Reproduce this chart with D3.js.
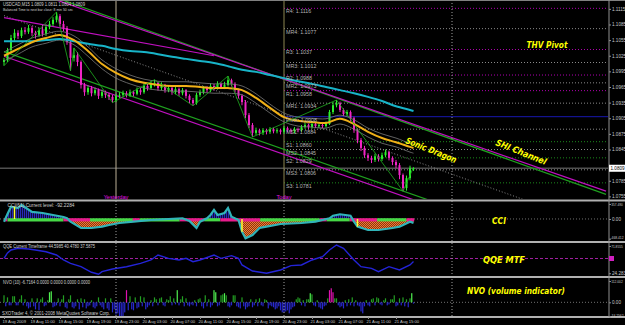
<!DOCTYPE html>
<html>
<head>
<meta charset="utf-8">
<script src="https://cdn.jsdelivr.net/npm/d3@7"></script>
<style>
  body { margin: 0; background: #000; }
  svg { display: block; }
</style>
</head>
<body>
<svg id="chart" width="625" height="325"></svg>
<script>
// USDCAD M15, 19-21 Aug 2009, one candle per half hour (hour = index * 0.5)
const opens = [1.1013,1.1017,1.1036,1.1059,1.1069,1.1063,1.1074,1.1071,1.1078,1.1069,
  1.1065,1.1074,1.1067,1.1080,1.1086,1.1094,1.1101,1.1086,1.1078,1.1051,
  1.1021,1.1026,1.1013,1.0969,1.0955,1.0963,1.0953,1.0959,1.0948,1.0955,
  1.0950,1.0946,1.0940,1.0948,1.0950,1.0953,1.0950,1.0955,1.0952,1.0959,
  1.0955,1.0967,1.0963,1.0971,1.0973,1.0963,1.0969,1.0959,1.0963,1.0955,
  1.0961,1.0953,1.0959,1.0948,1.0940,1.0934,1.0950,1.0955,1.0963,1.0959,
  1.0967,1.0963,1.0971,1.0965,1.0969,1.0978,1.0971,1.0959,1.0948,1.0936,
  1.0911,1.0892,1.0877,1.0882,1.0877,1.0882,1.0879,1.0884,1.0880,1.0882,
  1.0879,1.0886,1.0882,1.0880,1.0884,1.0882,1.0888,1.0892,1.0888,1.0894,
  1.0890,1.0892,1.0890,1.0894,1.0917,1.0930,1.0934,1.0921,1.0913,1.0917,
  1.0905,1.0882,1.0863,1.0848,1.0834,1.0829,1.0825,1.0832,1.0827,1.0834,
  1.0840,1.0829,1.0821,1.0815,1.0796,1.0771,1.0790,1.0809];
const highs = [1.1021,1.1040,1.1065,1.1076,1.1074,1.1079,1.1080,1.1084,1.1082,1.1073,
  1.1079,1.1084,1.1085,1.1092,1.1099,1.1109,1.1105,1.1092,1.1082,1.1055,
  1.1040,1.1032,1.1016,1.0973,1.0968,1.0967,1.0964,1.0962,1.0960,1.0958,
  1.0954,1.0950,1.0952,1.0955,1.0958,1.0957,1.0960,1.0958,1.0964,1.0963,
  1.0972,1.0971,1.0976,1.0979,1.0975,1.0974,1.0971,1.0968,1.0966,1.0966,
  1.0964,1.0963,1.0961,1.0951,1.0944,1.0954,1.0960,1.0967,1.0967,1.0972,
  1.0971,1.0976,1.0974,1.0975,1.0986,1.0981,1.0974,1.0962,1.0951,1.0940,
  1.0915,1.0896,1.0887,1.0885,1.0886,1.0885,1.0888,1.0887,1.0886,1.0885,
  1.0890,1.0889,1.0885,1.0888,1.0887,1.0892,1.0897,1.0895,1.0898,1.0897,
  1.0896,1.0895,1.0899,1.0921,1.0936,1.0940,1.0937,1.0924,1.0921,1.0920,
  1.0908,1.0886,1.0867,1.0852,1.0838,1.0833,1.0837,1.0836,1.0839,1.0845,
  1.0843,1.0832,1.0825,1.0819,1.0799,1.0795,1.0814,1.0811];
const lows = [1.1006,1.1013,1.1032,1.1054,1.1057,1.1059,1.1066,1.1067,1.1063,1.1058,
  1.1061,1.1062,1.1063,1.1076,1.1082,1.1089,1.1081,1.1072,1.1046,1.0996,
  1.1014,1.1005,1.0962,1.0948,1.0950,1.0947,1.0949,1.0942,1.0944,1.0944,
  1.0940,1.0935,1.0936,1.0944,1.0946,1.0945,1.0946,1.0947,1.0949,1.0950,
  1.0952,1.0958,1.0960,1.0966,1.0958,1.0959,1.0954,1.0955,1.0950,1.0951,
  1.0948,1.0949,1.0943,1.0934,1.0929,1.0931,1.0946,1.0951,1.0954,1.0955,
  1.0958,1.0960,1.0961,1.0961,1.0966,1.0966,1.0954,1.0943,1.0930,1.0905,
  1.0886,1.0869,1.0873,1.0872,1.0873,1.0874,1.0875,1.0876,1.0876,1.0874,
  1.0875,1.0878,1.0875,1.0876,1.0878,1.0879,1.0885,1.0884,1.0885,1.0886,
  1.0886,1.0886,1.0887,1.0892,1.0913,1.0926,1.0917,1.0909,1.0909,1.0900,
  1.0877,1.0857,1.0842,1.0829,1.0823,1.0819,1.0821,1.0822,1.0823,1.0830,
  1.0824,1.0815,1.0809,1.0788,1.0765,1.0766,1.0786,1.0804];
const closes = [1.1017,1.1036,1.1059,1.1069,1.1063,1.1074,1.1071,1.1078,1.1069,1.1065,
  1.1074,1.1067,1.1080,1.1086,1.1094,1.1101,1.1086,1.1078,1.1051,1.1021,
  1.1026,1.1013,1.0969,1.0955,1.0963,1.0953,1.0959,1.0948,1.0955,1.0950,
  1.0946,1.0940,1.0948,1.0950,1.0953,1.0950,1.0955,1.0952,1.0959,1.0955,
  1.0967,1.0963,1.0971,1.0973,1.0963,1.0969,1.0959,1.0963,1.0955,1.0961,
  1.0953,1.0959,1.0948,1.0940,1.0934,1.0950,1.0955,1.0963,1.0959,1.0967,
  1.0963,1.0971,1.0965,1.0969,1.0978,1.0971,1.0959,1.0948,1.0936,1.0911,
  1.0892,1.0877,1.0882,1.0877,1.0882,1.0879,1.0884,1.0880,1.0882,1.0879,
  1.0886,1.0882,1.0880,1.0884,1.0882,1.0888,1.0892,1.0888,1.0894,1.0890,
  1.0892,1.0890,1.0894,1.0917,1.0930,1.0934,1.0921,1.0913,1.0917,1.0905,
  1.0882,1.0863,1.0848,1.0834,1.0829,1.0825,1.0832,1.0827,1.0834,1.0840,
  1.0829,1.0821,1.0815,1.0796,1.0771,1.0790,1.0809,1.0809];

// moving averages, sampled every two hours
const maHours = [0,2,4,6,8,10,12,14,16,18,20,22,24,26,28,30,32,34,36,38,40,42,44,46,48,50,52,54,56,58,58.5];
const orangeMA = [1.1025,1.1038,1.1051,1.1059,1.1065,1.1055,1.1034,1.1009,1.0992,1.0980,1.0973,1.0969,1.0967,1.0967,1.0965,1.0963,
  1.0963,1.0959,1.0944,1.0925,1.0907,1.0900,1.0898,1.0896,1.0904,1.0894,1.0879,1.0867,1.0859,1.0850,1.0848];
const cyanMA = [1.1053,1.1053,1.1053,1.1055,1.1057,1.1053,1.1048,1.1044,1.1038,1.1034,1.1032,1.1028,1.1023,1.1019,1.1015,1.1011,
  1.1005,1.0998,1.0994,1.0988,1.0982,1.0976,1.0971,1.0965,1.0959,1.0953,1.0946,1.0938,1.0928,1.0921,1.0919];
const dragonHigh = [1.1032,1.1046,1.1059,1.1067,1.1072,1.1063,1.1042,1.1017,1.1000,1.0988,1.0980,1.0976,1.0975,1.0975,1.0973,1.0971,
  1.0971,1.0967,1.0952,1.0932,1.0915,1.0907,1.0905,1.0904,1.0911,1.0902,1.0886,1.0875,1.0867,1.0857,1.0856];
const dragonLow = [1.1015,1.1028,1.1042,1.1049,1.1055,1.1046,1.1024,1.1000,1.0982,1.0971,1.0963,1.0959,1.0957,1.0957,1.0955,1.0953,
  1.0953,1.0950,1.0934,1.0915,1.0898,1.0890,1.0888,1.0886,1.0894,1.0884,1.0869,1.0857,1.0850,1.0840,1.0838];

// zigzag swings
const zzHours = [0,7.5,9.5,10,15.5,21.5,27,32,35.5,47.5,57,58.5];
const zzPrices = [1.1006,1.1109,1.0996,1.1040,1.0935,1.0979,1.0929,1.0986,1.0869,1.0940,1.0765,1.0811];

// SHI channel lines: price at hour 0 and hour 86
const chanHours = [0, 86];
const chanUpperGreen = [1.1172, 1.0759];
const chanUpperMagenta = [1.1167, 1.0765];
const chanLowerGreen = [1.1033, 1.0629];
const chanLowerMagenta = [1.1024, 1.0619];
const chanMiddle = [1.1102, 1.0693];
// older magenta trend line in the top left corner
const trendHours = [0, 30];
const trendPrices = [1.1098, 1.1025];

// THV pivots of today
const pivotNames = ['R4','MR4','R3','MR3','R2','MR2','R1','MR1','Pivot','MS1','S1','MS2','S2','MS3','S3'];
const pivotValues = [1.1116,1.1077,1.1037,1.1012,1.0988,1.0973,1.0958,1.0934,1.0908,1.0884,1.0860,1.0845,1.0829,1.0806,1.0781];
const todayHour = 40, yesterdayHour = 16, nextDayHour = 64;
const bid = 1.0809;

// CCI(61)
const cciHours = [0,0.5,1,2,2.5,4,5.5,7,8.5,9,9.5,11,12.5,14,15,16.5,18.5,21,23.5,25.5,26.5,27.5,28,29,29.5,30,30.5,31.5,32,32.5,
  33.5,34,34.5,35.5,36.5,37.5,39.5,42.5,44.5,46.5,47,48,49.5,50,50.5,52,53.5,55.5,56.5,58,58.5];
const cciValues = [-64,119,293,262,333,167,143,95,48,17,-64,-214,-214,-183,-143,-95,-64,-24,0,17,-48,-214,-64,17,95,214,95,143,262,55,
  -24,-302,-459,-381,-214,-183,-119,-95,-64,17,79,112,79,-64,-183,-262,-262,-214,-183,-64,-92];
// trend band on the zero line: [from hour, to hour, 1 up / -1 down]
const cciTrend = [[0,0.5,-1],[0.5,8.5,1],[8.5,12.3,-1],[12.3,18.4,1],[18.4,19.4,-1],[19.4,25.1,1],[25.1,28.6,-1],[28.6,30.9,1],
  [30.9,36.6,-1],[36.6,45.1,1],[45.1,46.1,-1],[46.1,49.4,1],[49.4,53.3,-1],[53.3,57.5,1],[57.5,58.6,-1]];
const cciSignalHours = [1.5, 34, 50.5];
const cciSignalValues = [293, -302, -183];

// QQE
const qqeHours = [0,0.5,1,2,3.5,4.5,6,7.5,8.5,9.5,11,12.5,13.5,14,15.5,17.5,19.5,21,22,23.5,25,26,27,28,30,31,32.5,33.5,34,35.5,
  37.5,39.5,41,42.5,44,45.5,46.5,47.5,48.5,50,51,52.5,53.5,55,56.5,58,58.5];
const qqeValues = [50.3,59.6,64.8,67.8,66.5,64.8,61.8,56.1,47.4,41.6,35.7,26,22.5,27,31.7,35.7,41.6,47.4,56.1,50.3,47.4,50.3,44.4,47.4,56.1,50.3,54.9,50.3,38.7,28.2,
  24.2,30,37.5,38.7,47.4,53.1,64.8,73.5,67.8,47.4,35.7,32.9,27,35.7,30,38.7,44.6];

// NVO, one value per M15 bar (hour = index * 0.25)
const nvo = [37,-21,26,-16,-16,32,32,-16,-16,16,37,-16,16,-21,-32,-26,21,-21,-37,21,
  -42,16,26,-21,-16,11,53,58,-26,-21,-16,21,-21,16,37,-26,-32,16,37,-26,
  -32,-21,16,-37,21,-26,16,-32,-21,-16,11,-26,-32,-21,26,-16,-26,-37,21,-32,
  -42,21,-53,-37,-64,-58,-74,-85,-74,-53,64,-42,32,-37,-42,26,-32,-26,32,-21,
  26,-37,-26,-16,11,-21,26,16,-16,21,26,-16,-21,16,11,32,-16,21,-11,64,
  -16,16,32,-21,21,-16,-21,-11,-16,11,-21,16,21,-21,-32,37,-21,16,-26,-16,
  64,53,-21,-16,37,42,48,37,-21,-26,-16,37,37,-21,-26,-32,26,-21,-37,-26,
  -21,16,-26,-16,16,-21,21,-16,-21,16,11,-32,-16,-21,-26,-37,-32,-21,-42,-53,
  -53,-48,-42,-58,-37,-26,-21,16,26,21,-16,11,-21,16,16,48,42,-16,-21,11,
  -26,-32,-37,-21,-16,21,64,74,53,21,21,-16,-26,-21,-32,11,-21,16,-16,26,
  -21,11,-16,-21,-48,-58,-21,11,-16,-21,16,21,-16,26,21,-11,-16,11,21,-16,
  -11,16,16,37,-21,-16,21,-16,26,-21,16,-26,21,48,-7];
const nvoMagentaBars = [70, 186, 187, 188];

// axis labels
const priceTicks = [1.1115,1.1085,1.1055,1.1025,1.0995,1.0965,1.0935,1.0905,1.0875,1.0845,1.0785,1.0755];
const cciTicks = [357.49, 0, -468.412];
const cciTickLabels = ['357.490', '0.00', '-468.412'];
const qqeTicks = [71.8555, 24.283];
const qqeTickLabels = ['71.8555', '24.283'];
const nvoTicks = [112.002, 0, -74.2562];
const nvoTickLabels = ['112.002', '0.00', '-74.2562'];
const timeTickHours = [0,4,8,12,16,20,24,28,32,36,40,44,48,52,56];
const timeLabels = ['19 Aug 2009','19 Aug 11:00','19 Aug 15:00','19 Aug 19:00','19 Aug 23:00','20 Aug 03:00','20 Aug 07:00',
  '20 Aug 11:00','20 Aug 15:00','20 Aug 19:00','20 Aug 23:00','21 Aug 03:00','21 Aug 07:00','21 Aug 11:00','21 Aug 15:00'];

const W = 625, H = 325, right = 608;
const small = "'Liberation Sans', Arial, sans-serif";
const up = '#2cf02c', down = '#f024c4';

const svg = d3.select('#chart');
svg.append('rect').attr('width', W).attr('height', H).attr('fill', '#000');

const x = d3.scaleLinear().domain([0, 86]).range([4, 606]);
const yP = d3.scaleLinear().domain([1.1132, 1.0750]).range([0, 199]);
const yC = d3.scaleLinear().domain([428, -524]).range([201, 241]);
const yQ = d3.scaleLinear().domain([77, 19.5]).range([243, 276]);
const yN = d3.scaleLinear().domain([128, -72]).range([278, 316]);

const defs = svg.append('defs');
function clip(id, y0, y1) {
  defs.append('clipPath').attr('id', id).append('rect')
    .attr('x', 0).attr('y', y0).attr('width', right).attr('height', y1 - y0);
}
clip('cMain', 0, 199); clip('cCci', 201, 241); clip('cQqe', 243, 276); clip('cNvo', 278, 316);
clip('cPos', 201, yC(0)); clip('cNeg', yC(0), 241);

const hatch = defs.append('pattern').attr('id', 'hatchBlue').attr('width', 2).attr('height', 2)
  .attr('patternUnits', 'userSpaceOnUse');
hatch.append('rect').attr('width', 1.3).attr('height', 2).attr('fill', '#2828b8');
const check = defs.append('pattern').attr('id', 'checkOrange').attr('width', 2).attr('height', 2)
  .attr('patternUnits', 'userSpaceOnUse');
check.append('rect').attr('width', 2).attr('height', 2).attr('fill', '#8a3012');
check.append('rect').attr('width', 1).attr('height', 1).attr('fill', '#f08030');
check.append('rect').attr('x', 1).attr('y', 1).attr('width', 1).attr('height', 1).attr('fill', '#f08030');

// ---------- main panel ----------
const main = svg.append('g').attr('clip-path', 'url(#cMain)');

// pivot lines from today's open
pivotNames.forEach((n, i) => {
  const v = pivotValues[i];
  let col = '#8a8a8a', dash = '1,2';
  if (n === 'Pivot') { col = '#1818b0'; dash = null; }
  else if (n[0] === 'R') col = '#b000b0';
  else if (n[0] === 'S') col = '#1c8a1c';
  main.append('line')
    .attr('x1', x(todayHour)).attr('x2', right)
    .attr('y1', yP(v)).attr('y2', yP(v))
    .attr('stroke', col).attr('stroke-dasharray', dash);
});

// bid line
main.append('line').attr('x1', 0).attr('x2', right).attr('y1', yP(bid)).attr('y2', yP(bid))
  .attr('stroke', '#505050').attr('stroke-width', 1.5);

// day separators
main.append('line').attr('x1', x(yesterdayHour)).attr('x2', x(yesterdayHour)).attr('y1', 0).attr('y2', 199)
  .attr('stroke', '#bcb096');
main.append('line').attr('x1', x(todayHour)).attr('x2', x(todayHour)).attr('y1', 0).attr('y2', 199)
  .attr('stroke', '#8c8650');

// channel lines
const chanLine = d3.line().x((d, i) => x(chanHours[i])).y(d => yP(d));
main.append('path').datum(chanMiddle).attr('d', chanLine).attr('fill', 'none')
  .attr('stroke', '#8a8a8a').attr('stroke-dasharray', '1,2');
[[chanUpperGreen, '#1fa01f'], [chanUpperMagenta, '#c010c0'], [chanLowerGreen, '#1fa01f'], [chanLowerMagenta, '#c010c0']]
  .forEach(([d, c]) => {
    main.append('path').datum(d).attr('d', chanLine).attr('fill', 'none').attr('stroke', c).attr('stroke-width', 1.2);
  });
const trendLine = d3.line().x((d, i) => x(trendHours[i])).y(d => yP(d));
main.append('path').datum(trendPrices).attr('d', trendLine).attr('fill', 'none').attr('stroke', '#c010c0').attr('stroke-width', 1.2);

// candles
const candles = closes.map((c, i) => ({ t: i * 0.5, o: opens[i], h: highs[i], l: lows[i], c: c }));
main.selectAll('line.wick').data(candles).join('line').attr('class', 'wick')
  .attr('x1', d => x(d.t)).attr('x2', d => x(d.t))
  .attr('y1', d => yP(d.h)).attr('y2', d => yP(d.l))
  .attr('stroke', d => d.c >= d.o ? up : down).attr('stroke-width', 1);
main.selectAll('rect.body').data(candles).join('rect').attr('class', 'body')
  .attr('x', d => x(d.t) - 1).attr('width', 2)
  .attr('y', d => yP(Math.max(d.o, d.c)))
  .attr('height', d => Math.max(1, Math.abs(yP(d.o) - yP(d.c))))
  .attr('fill', d => d.c >= d.o ? up : down);

// moving averages
const maLine = d3.line().x((d, i) => x(maHours[i])).y(d => yP(d)).curve(d3.curveCatmullRom);
main.append('path').datum(dragonHigh).attr('d', maLine).attr('fill', 'none').attr('stroke', '#7a7a7a').attr('stroke-width', 0.8);
main.append('path').datum(dragonLow).attr('d', maLine).attr('fill', 'none').attr('stroke', '#7a7a7a').attr('stroke-width', 0.8);
main.append('path').datum(cyanMA).attr('d', maLine).attr('fill', 'none').attr('stroke', '#18b4c8').attr('stroke-width', 2);
main.append('path').datum(orangeMA).attr('d', maLine).attr('fill', 'none').attr('stroke', '#f0b018').attr('stroke-width', 2);

// zigzag
const zzLine = d3.line().x((d, i) => x(zzHours[i])).y(d => yP(d));
main.append('path').datum(zzPrices).attr('d', zzLine).attr('fill', 'none').attr('stroke', '#20b020').attr('stroke-width', 0.8);

// pivot labels
pivotNames.forEach((n, i) => {
  svg.append('text').attr('x', 286).attr('y', yP(pivotValues[i]) + 5)
    .attr('font-family', small).attr('font-size', 5.3).attr('fill', '#b4b4b4')
    .text(n + ': ' + pivotValues[i].toFixed(4));
});

// ---------- CCI ----------
const cci = svg.append('g').attr('clip-path', 'url(#cCci)');
const cciArea = d3.area().x((d, i) => x(cciHours[i])).y0(yC(0)).y1(d => yC(d));
const cciLine = d3.line().x((d, i) => x(cciHours[i])).y(d => yC(d));
cci.append('g').attr('clip-path', 'url(#cPos)').append('path').datum(cciValues).attr('d', cciArea).attr('fill', 'url(#hatchBlue)');
cci.append('g').attr('clip-path', 'url(#cNeg)').append('path').datum(cciValues).attr('d', cciArea).attr('fill', 'url(#checkOrange)');
cci.append('line').attr('x1', 0).attr('x2', right).attr('y1', yC(0)).attr('y2', yC(0))
  .attr('stroke', '#707070').attr('stroke-dasharray', '1,2');
cci.selectAll('line.band').data(cciTrend).join('line').attr('class', 'band')
  .attr('x1', d => x(d[0])).attr('x2', d => x(d[1]))
  .attr('y1', yC(0) + 0.8).attr('y2', yC(0) + 0.8)
  .attr('stroke', d => d[2] > 0 ? '#46d846' : '#e81c8c').attr('stroke-width', 3.2);
cci.append('path').datum(cciValues).attr('d', cciLine).attr('fill', 'none').attr('stroke', '#30b4b8').attr('stroke-width', 2.2);
cci.selectAll('line.sig').data(cciSignalHours).join('line').attr('class', 'sig')
  .attr('x1', d => x(d)).attr('x2', d => x(d))
  .attr('y1', yC(0)).attr('y2', (d, i) => yC(cciSignalValues[i]))
  .attr('stroke', '#ffff30').attr('stroke-width', 1.5);

// ---------- QQE ----------
const qqe = svg.append('g').attr('clip-path', 'url(#cQqe)');
qqe.append('line').attr('x1', 0).attr('x2', right).attr('y1', yQ(50)).attr('y2', yQ(50))
  .attr('stroke', '#a020a0').attr('stroke-dasharray', '3,2');
const qqeLine = d3.line().x((d, i) => x(qqeHours[i])).y(d => yQ(d));
qqe.append('path').datum(qqeValues).attr('d', qqeLine).attr('fill', 'none').attr('stroke', '#2424d8').attr('stroke-width', 1.4);

// ---------- NVO ----------
const nv = svg.append('g').attr('clip-path', 'url(#cNvo)');
nv.append('line').attr('x1', 0).attr('x2', right).attr('y1', yN(0)).attr('y2', yN(0))
  .attr('stroke', '#707070').attr('stroke-dasharray', '1,2');
nv.selectAll('rect.nvo').data(nvo).join('rect').attr('class', 'nvo')
  .attr('x', (d, k) => x(k * 0.25) - 0.6).attr('width', 1.2)
  .attr('y', d => yN(Math.max(0, d))).attr('height', d => Math.abs(yN(d) - yN(0)))
  .attr('fill', (d, k) => nvoMagentaBars.includes(k) ? '#e010b0' : d < 0 ? '#2828d0' : d >= 45 ? '#50f050' : '#22a022');

// ---------- vertical dotted lines through sub windows ----------
[yesterdayHour, todayHour].forEach(h => {
  svg.append('line').attr('x1', x(h)).attr('x2', x(h)).attr('y1', 201).attr('y2', 316)
    .attr('stroke', '#a0a0a0').attr('stroke-dasharray', '1,2');
});
svg.append('line').attr('x1', x(nextDayHour)).attr('x2', x(nextDayHour)).attr('y1', 0).attr('y2', 316)
  .attr('stroke', '#a0a0a0').attr('stroke-dasharray', '1,2');

// ---------- frames ----------
[0.5, 200.5, 242, 277, 317].forEach(y => {
  svg.append('line').attr('x1', 0).attr('x2', W).attr('y1', y).attr('y2', y)
    .attr('stroke', y === 0.5 ? '#808080' : '#b0b0b0').attr('stroke-width', y === 0.5 ? 1 : 1.8);
});

// ---------- axes ----------
function styleAxis(g) {
  g.selectAll('.tick line').attr('stroke', '#909090');
  g.selectAll('text').attr('fill', '#c8c8c8').attr('font-family', small).attr('font-size', 4.6);
}
function fitLong(g) {
  g.selectAll('text').filter(function () { return this.textContent.length > 6; })
    .attr('x', 2.2).attr('font-size', 4.1).attr('textLength', 11.5).attr('lengthAdjust', 'spacingAndGlyphs');
  // the long negative labels sit just above the window border
  g.selectAll('text').filter(function () { return this.textContent[0] === '-'; })
    .attr('x', 1.5).attr('font-size', 3.6).attr('textLength', 13).attr('dy', '-0.1em');
}
svg.append('g').attr('transform', `translate(${right + 1},0)`)
  .call(d3.axisRight(yP).tickValues(priceTicks).tickSize(2).tickPadding(1).tickFormat(d3.format('.4f')))
  .call(styleAxis);
svg.append('g').attr('transform', `translate(${right + 1},0)`)
  .call(d3.axisRight(yC).tickValues(cciTicks).tickSize(2).tickPadding(1).tickFormat((d, i) => cciTickLabels[i]))
  .call(styleAxis).call(fitLong);
svg.append('g').attr('transform', `translate(${right + 1},0)`)
  .call(d3.axisRight(yQ).tickValues(qqeTicks).tickSize(2).tickPadding(1).tickFormat((d, i) => qqeTickLabels[i]))
  .call(styleAxis).call(fitLong);
svg.append('g').attr('transform', `translate(${right + 1},0)`)
  .call(d3.axisRight(yN).tickValues(nvoTicks).tickSize(2).tickPadding(1).tickFormat((d, i) => nvoTickLabels[i]))
  .call(styleAxis).call(fitLong);
svg.selectAll('.domain').remove();
svg.append('line').attr('x1', right + 1).attr('x2', right + 1).attr('y1', 0).attr('y2', 317).attr('stroke', '#909090');

const tAxis = svg.append('g').attr('transform', 'translate(0,317)')
  .call(d3.axisBottom(x).tickValues(timeTickHours).tickSize(2).tickPadding(1).tickFormat((d, i) => timeLabels[i]))
  .call(styleAxis);
tAxis.select('.domain').remove();
tAxis.selectAll('text').attr('text-anchor', 'start').attr('x', -2).attr('font-size', 4.2);

// current price marker and QQE level marker
svg.append('rect').attr('x', right + 1).attr('y', yP(bid) - 3.5).attr('width', 16).attr('height', 7).attr('fill', '#fff');
svg.append('text').attr('x', right + 2.5).attr('y', yP(bid) + 1.7).attr('font-family', small).attr('font-size', 4.6)
  .attr('fill', '#000').text(bid.toFixed(4));
svg.append('rect').attr('x', right + 1).attr('y', yQ(50) - 2.5).attr('width', 5).attr('height', 5).attr('fill', '#d020c0');

// ---------- texts ----------
function label(t, xx, yy, len, size, fill) {
  svg.append('text').attr('x', xx).attr('y', yy).attr('font-family', small).attr('font-size', size)
    .attr('fill', fill || '#d0d0d0').attr('textLength', len).attr('lengthAdjust', 'spacingAndGlyphs').text(t);
}
label('USDCAD,M15  1.0809 1.0811 1.0804 1.0809', 3, 5.8, 82, 4.6);
label('Balanced Time to next bar close: 8 min 50 sec', 3, 10.8, 70, 4.4);
label('CCI(61)   Current level:   -92.2284', 7.5, 207, 67, 4.6);
label('QQE Current Timeframe 44.5985 40.4780 37.5875', 3, 248.3, 92, 4.6);
label('NVO (10) -6.7164 0.0000 0.0000 0.0000 0.0000', 3, 284.3, 87, 4.6);
label('SXOTrader 4, \u00a9 2001-2008 MetaQuotes Software Corp.', 2, 314.7, 108, 4.6);

svg.append('text').attr('x', x(yesterdayHour)).attr('y', 198.5).attr('text-anchor', 'middle')
  .attr('font-family', small).attr('font-size', 5.6).attr('fill', '#e010e0').text('Yesterday');
svg.append('text').attr('x', x(todayHour)).attr('y', 198.5).attr('text-anchor', 'middle')
  .attr('font-family', small).attr('font-size', 5.6).attr('fill', '#e010e0').text('Today');

function yellow(t, cx, cy, len, rot) {
  svg.append('text').attr('transform', `translate(${cx},${cy}) rotate(${rot})`)
    .attr('text-anchor', 'middle').attr('font-family', "'DejaVu Sans', sans-serif")
    .attr('font-style', 'italic').attr('font-weight', 'bold').attr('font-size', 9)
    .attr('fill', '#ffff00').attr('textLength', len).attr('lengthAdjust', 'spacingAndGlyphs').text(t);
}
yellow('THV Pivot', 547, 47.5, 41, 0);
yellow('Sonic Dragon', 430, 153, 54, 22);
yellow('SHI Channel', 520, 155, 54, 22);
yellow('CCI', 499, 223.5, 14, 0);
yellow('QQE MTF', 504, 262.5, 42, 0);
yellow('NVO (volume indicator)', 516, 293.5, 98, 0);
</script>
</body>
</html>
